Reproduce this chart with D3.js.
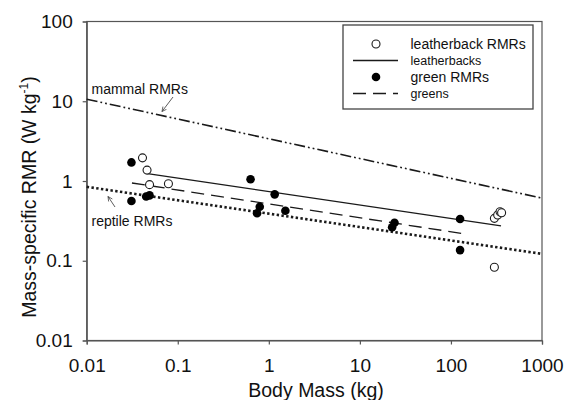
<!DOCTYPE html>
<html><head><meta charset="utf-8">
<script src="https://cdn.jsdelivr.net/npm/d3@7"></script>
<style>
body{margin:0;background:#fff}
text{font-family:"Liberation Sans",Arial,sans-serif;fill:#111}
</style>
</head><body><svg id="c" width="571" height="400"></svg>
<script>
// ---- data ----
const leatherbackMass = [0.041, 0.046, 0.049, 0.079, 300, 326, 346, 360, 300];
const leatherbackRMR  = [1.95, 1.37, 0.90, 0.925, 0.34, 0.375, 0.412, 0.40, 0.083];
const greenMass = [0.031, 0.031, 0.045, 0.049, 0.63, 1.16, 0.795, 0.743, 1.52, 24.0, 22.6, 126, 126];
const greenRMR  = [1.71, 0.561, 0.64, 0.66, 1.05, 0.68, 0.476, 0.394, 0.424, 0.30, 0.263, 0.334, 0.136];
// fitted / reference lines: [start, end]
const mammalMass = [0.01, 1000],   mammalRMR = [10.6, 0.61];
const reptileMass = [0.01, 1000],  reptileRMR = [0.845, 0.122];
const leatherFitMass = [0.0465, 355], leatherFitRMR = [1.24, 0.273];
const greenFitMass = [0.0314, 129.5], greenFitRMR = [0.944, 0.221];
const xTicks = [0.01, 0.1, 1, 10, 100, 1000];
const yTicks = [0.01, 0.1, 1, 10, 100];
const legendLabels = ["leatherback RMRs", "leatherbacks", "green RMRs", "greens"];

const svg = d3.select("#c");
const x = d3.scaleLog().domain([0.01, 1000]).range([86.7, 542]);
const y = d3.scaleLog().domain([0.01, 100]).range([340.5, 21.5]);
const ink = "#1a1a1a";

// frame
svg.append("rect").attr("x", x(0.01)).attr("y", y(100))
  .attr("width", x(1000) - x(0.01)).attr("height", y(0.01) - y(100))
  .attr("fill", "none").attr("stroke", "#555").attr("stroke-width", 1.2);

// axes
const fmt = d => String(d);
const gx = svg.append("g").attr("transform", `translate(0,${y(0.01)})`)
  .call(d3.axisBottom(x).tickValues(xTicks).tickFormat(fmt).tickSize(4).tickPadding(14));
const gy = svg.append("g").attr("transform", `translate(${x(0.01)},0)`)
  .call(d3.axisLeft(y).tickValues(yTicks).tickFormat(fmt).tickSize(4).tickPadding(10));
[gx, gy].forEach(g => {
  g.select(".domain").attr("stroke", "#555").attr("stroke-width", 1.2);
  g.selectAll(".tick line").attr("stroke", "#555").attr("stroke-width", 1.2);
  g.selectAll(".tick text").attr("font-size", 19).attr("font-family", '"Liberation Sans",Arial,sans-serif').attr("fill", "#111");
});

// axis titles
svg.append("text").attr("x", 316).attr("y", 397).attr("text-anchor", "middle")
  .attr("font-size", 19.5).text("Body Mass (kg)");
const yt = svg.append("text").attr("transform", "translate(36,197) rotate(-90)")
  .attr("text-anchor", "middle").attr("font-size", 19.5);
yt.append("tspan").text("Mass-specific RMR (W kg");
yt.append("tspan").attr("dy", -8).attr("font-size", 12).text("-1");
yt.append("tspan").attr("dy", 8).text(")");

// lines
const line = d3.line().x(d => x(d[0])).y(d => y(d[1]));
const pairs = (m, r) => m.map((v, i) => [v, r[i]]);
svg.append("path").attr("d", line(pairs(mammalMass, mammalRMR)))
  .attr("fill", "none").attr("stroke", ink).attr("stroke-width", 1.6)
  .attr("stroke-dasharray", "11,3,1.8,3,1.8,3");
svg.append("path").attr("d", line(pairs(reptileMass, reptileRMR)))
  .attr("fill", "none").attr("stroke", ink).attr("stroke-width", 2.6)
  .attr("stroke-dasharray", "2.4,2.4");
svg.append("path").attr("d", line(pairs(leatherFitMass, leatherFitRMR)))
  .attr("fill", "none").attr("stroke", ink).attr("stroke-width", 1.3);
svg.append("path").attr("d", line(pairs(greenFitMass, greenFitRMR)))
  .attr("fill", "none").attr("stroke", ink).attr("stroke-width", 1.3)
  .attr("stroke-dasharray", "13,7");

// points
svg.append("g").selectAll("circle").data(pairs(leatherbackMass, leatherbackRMR)).join("circle")
  .attr("cx", d => x(d[0])).attr("cy", d => y(d[1])).attr("r", 4)
  .attr("fill", "#fff").attr("stroke", ink).attr("stroke-width", 1.1);
svg.append("g").selectAll("circle").data(pairs(greenMass, greenRMR)).join("circle")
  .attr("cx", d => x(d[0])).attr("cy", d => y(d[1])).attr("r", 4.3)
  .attr("fill", "#000");

// annotations
const defs = svg.append("defs");
defs.append("marker").attr("id", "ah").attr("viewBox", "0 0 10 10").attr("refX", 9).attr("refY", 5)
  .attr("markerWidth", 7).attr("markerHeight", 7).attr("orient", "auto")
  .append("path").attr("d", "M1,1 L9,5 L1,9").attr("fill", "none").attr("stroke", "#333").attr("stroke-width", 1.2);
svg.append("text").attr("x", 91.5).attr("y", 94).attr("font-size", 14).text("mammal RMRs");
svg.append("line").attr("x1", 173).attr("y1", 97).attr("x2", 162).attr("y2", 111.5)
  .attr("stroke", "#333").attr("stroke-width", 0.8).attr("marker-end", "url(#ah)");
svg.append("text").attr("x", 91.5).attr("y", 226).attr("font-size", 14).text("reptile RMRs");
svg.append("line").attr("x1", 115).attr("y1", 207).attr("x2", 108).attr("y2", 196.5)
  .attr("stroke", "#333").attr("stroke-width", 0.8).attr("marker-end", "url(#ah)");

// legend
const lg = svg.append("g");
lg.append("rect").attr("x", 343).attr("y", 25).attr("width", 190).attr("height", 84)
  .attr("fill", "#fff").attr("stroke", "#444").attr("stroke-width", 1.3);
const ly = [44, 60.5, 77, 93.5];
lg.append("circle").attr("cx", 376).attr("cy", ly[0]).attr("r", 4).attr("fill", "#fff").attr("stroke", ink).attr("stroke-width", 1.1);
lg.append("line").attr("x1", 353).attr("x2", 398).attr("y1", ly[1]).attr("y2", ly[1]).attr("stroke", ink).attr("stroke-width", 1.3);
lg.append("circle").attr("cx", 376).attr("cy", ly[2]).attr("r", 4.3).attr("fill", "#000");
lg.append("line").attr("x1", 353).attr("x2", 398).attr("y1", ly[3]).attr("y2", ly[3]).attr("stroke", ink).attr("stroke-width", 1.3).attr("stroke-dasharray", "13,7");
lg.selectAll("text.l").data(legendLabels).join("text").attr("class", "l")
  .attr("x", 410.5).attr("y", (d, i) => ly[i]).attr("dy", "0.35em")
  .attr("font-size", (d, i) => i % 2 === 0 ? 14 : 12.5).text(d => d);
</script></body></html>
